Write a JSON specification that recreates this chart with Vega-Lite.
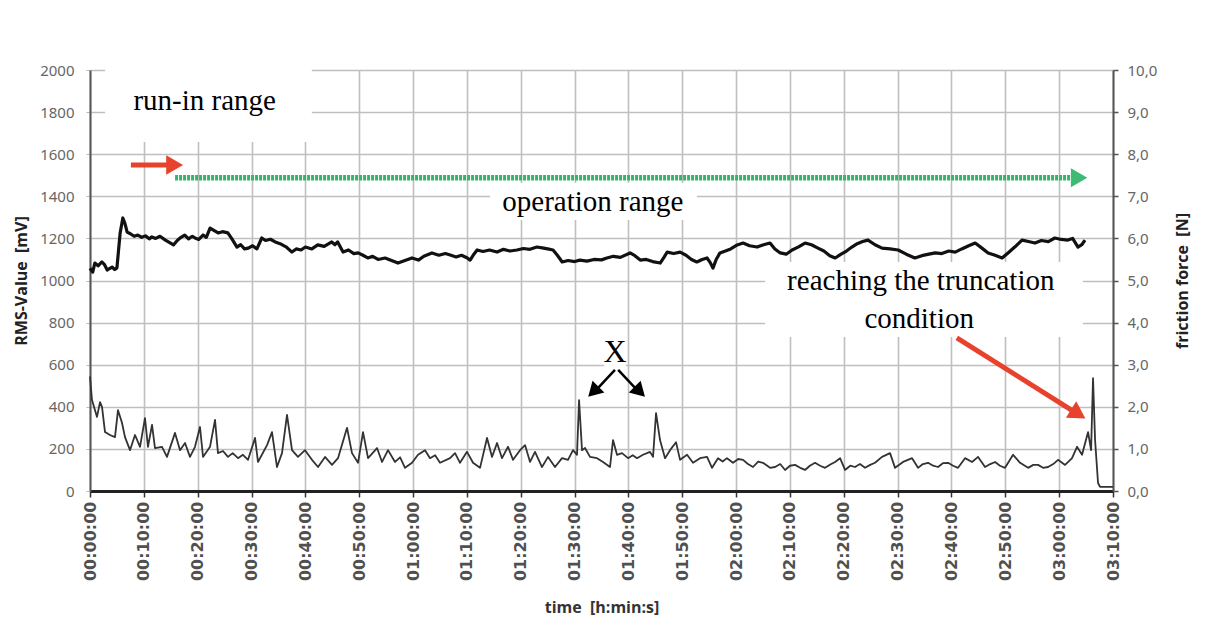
{
  "$schema": "https://vega.github.io/schema/vega-lite/v6.json",
  "width": 1023,
  "height": 421,
  "autosize": {"type": "none"},
  "padding": {"left": 90, "top": 70, "right": 97, "bottom": 135},
  "background": "white",
  "config": {"view": {"stroke": null}},
  "datasets": {
    "rms": [
      {"t":0,"v":1058},{"t":0.5,"v":1040},{"t":0.9,"v":1083},{"t":1.5,"v":1070},{"t":2.2,"v":1088},{"t":2.7,"v":1075},{"t":3.2,"v":1050},{"t":3.7,"v":1058},{"t":4.1,"v":1064},{"t":4.6,"v":1052},{"t":5.0,"v":1060},{"t":5.6,"v":1226},{"t":6.1,"v":1297},{"t":6.5,"v":1270},{"t":6.9,"v":1230},{"t":7.5,"v":1222},{"t":8.2,"v":1210},{"t":8.9,"v":1216},{"t":9.6,"v":1205},{"t":10.3,"v":1212},{"t":11.0,"v":1198},{"t":11.5,"v":1207},{"t":12.2,"v":1200},{"t":13.0,"v":1210},{"t":14.0,"v":1192},{"t":14.8,"v":1180},{"t":15.5,"v":1169},{"t":16.2,"v":1190},{"t":16.9,"v":1205},{"t":17.6,"v":1216},{"t":18.3,"v":1198},{"t":19.0,"v":1210},{"t":19.5,"v":1202},{"t":20.2,"v":1195},{"t":21.0,"v":1216},{"t":21.6,"v":1205},{"t":22.3,"v":1249},{"t":23.0,"v":1238},{"t":23.8,"v":1226},{"t":24.6,"v":1232},{"t":25.6,"v":1226},{"t":26.3,"v":1200},{"t":27.3,"v":1159},{"t":28.0,"v":1170},{"t":28.7,"v":1150},{"t":29.4,"v":1154},{"t":30.2,"v":1165},{"t":31.0,"v":1150},{"t":31.9,"v":1202},{"t":32.6,"v":1190},{"t":33.5,"v":1196},{"t":34.4,"v":1183},{"t":35.3,"v":1175},{"t":36.4,"v":1160},{"t":37.5,"v":1135},{"t":38.3,"v":1150},{"t":39.2,"v":1145},{"t":40.0,"v":1159},{"t":41.2,"v":1150},{"t":42.3,"v":1169},{"t":43.5,"v":1162},{"t":44.9,"v":1183},{"t":45.5,"v":1170},{"t":46.0,"v":1183},{"t":47.0,"v":1135},{"t":48.0,"v":1145},{"t":49.0,"v":1128},{"t":49.8,"v":1131},{"t":50.7,"v":1120},{"t":51.6,"v":1107},{"t":52.5,"v":1115},{"t":53.5,"v":1100},{"t":54.8,"v":1107},{"t":56.0,"v":1095},{"t":57.2,"v":1083},{"t":58.5,"v":1095},{"t":59.8,"v":1107},{"t":61.0,"v":1097},{"t":62.0,"v":1115},{"t":63.5,"v":1131},{"t":64.8,"v":1120},{"t":66.0,"v":1128},{"t":66.9,"v":1121},{"t":68.0,"v":1112},{"t":69.0,"v":1120},{"t":70.0,"v":1108},{"t":70.6,"v":1097},{"t":71.3,"v":1125},{"t":71.9,"v":1145},{"t":73.0,"v":1138},{"t":74.2,"v":1145},{"t":75.6,"v":1135},{"t":76.8,"v":1148},{"t":78.0,"v":1140},{"t":79.3,"v":1145},{"t":80.5,"v":1152},{"t":81.7,"v":1148},{"t":83.0,"v":1159},{"t":84.0,"v":1155},{"t":85.0,"v":1150},{"t":86.0,"v":1145},{"t":86.8,"v":1120},{"t":87.7,"v":1088},{"t":88.8,"v":1095},{"t":90.0,"v":1090},{"t":91.0,"v":1097},{"t":92.3,"v":1092},{"t":93.6,"v":1100},{"t":95.0,"v":1098},{"t":96.0,"v":1107},{"t":97.2,"v":1115},{"t":98.5,"v":1110},{"t":100.3,"v":1131},{"t":101.2,"v":1118},{"t":102.2,"v":1097},{"t":103.3,"v":1100},{"t":104.5,"v":1090},{"t":105.9,"v":1083},{"t":106.6,"v":1110},{"t":107.2,"v":1135},{"t":108.4,"v":1128},{"t":109.6,"v":1135},{"t":110.7,"v":1120},{"t":111.7,"v":1100},{"t":112.7,"v":1088},{"t":113.7,"v":1100},{"t":114.6,"v":1107},{"t":115.2,"v":1085},{"t":115.7,"v":1059},{"t":116.3,"v":1100},{"t":117.0,"v":1131},{"t":118.0,"v":1140},{"t":119.0,"v":1150},{"t":120.2,"v":1169},{"t":121.3,"v":1178},{"t":122.5,"v":1165},{"t":123.9,"v":1159},{"t":125.1,"v":1170},{"t":126.3,"v":1178},{"t":127.2,"v":1150},{"t":128.2,"v":1131},{"t":129.3,"v":1125},{"t":130.4,"v":1145},{"t":131.6,"v":1160},{"t":132.8,"v":1178},{"t":134.0,"v":1170},{"t":135.2,"v":1154},{"t":136.3,"v":1140},{"t":137.4,"v":1118},{"t":138.4,"v":1107},{"t":139.5,"v":1125},{"t":140.5,"v":1140},{"t":141.5,"v":1159},{"t":142.5,"v":1175},{"t":143.5,"v":1185},{"t":144.5,"v":1192},{"t":145.8,"v":1170},{"t":147.1,"v":1154},{"t":148.6,"v":1150},{"t":150.1,"v":1145},{"t":151.6,"v":1125},{"t":153.2,"v":1107},{"t":154.5,"v":1118},{"t":155.8,"v":1125},{"t":157.0,"v":1131},{"t":158.2,"v":1128},{"t":159.5,"v":1140},{"t":160.7,"v":1135},{"t":161.9,"v":1150},{"t":163.2,"v":1165},{"t":164.4,"v":1178},{"t":165.6,"v":1155},{"t":166.8,"v":1131},{"t":168.1,"v":1120},{"t":169.4,"v":1107},{"t":170.5,"v":1131},{"t":171.8,"v":1160},{"t":173.1,"v":1192},{"t":174.3,"v":1185},{"t":175.5,"v":1178},{"t":176.7,"v":1190},{"t":178.0,"v":1185},{"t":179.2,"v":1202},{"t":180.4,"v":1195},{"t":181.6,"v":1192},{"t":182.5,"v":1200},{"t":183.5,"v":1159},{"t":184.2,"v":1170},{"t":184.8,"v":1192}
    ],
    "force": [
      {"t":0,"f":2.72},{"t":0.37,"f":2.16},{"t":1.3,"f":1.76},{"t":1.86,"f":2.11},{"t":2.23,"f":2.0},{"t":2.79,"f":1.4},{"t":3.71,"f":1.33},{"t":4.64,"f":1.28},{"t":5.2,"f":1.92},{"t":5.94,"f":1.62},{"t":6.5,"f":1.28},{"t":7.43,"f":0.97},{"t":8.36,"f":1.33},{"t":9.29,"f":1.05},{"t":10.21,"f":1.73},{"t":10.77,"f":1.05},{"t":11.52,"f":1.57},{"t":12.07,"f":1.02},{"t":13.37,"f":1.05},{"t":14.3,"f":0.81},{"t":15.79,"f":1.38},{"t":16.72,"f":0.97},{"t":17.65,"f":1.14},{"t":18.57,"f":0.81},{"t":19.5,"f":1.05},{"t":20.43,"f":1.52},{"t":20.99,"f":0.81},{"t":22.29,"f":1.05},{"t":23.22,"f":1.69},{"t":23.77,"f":0.9},{"t":24.7,"f":0.95},{"t":25.63,"f":0.81},{"t":26.5,"f":0.9},{"t":27.49,"f":0.78},{"t":28.4,"f":0.86},{"t":29.35,"f":0.74},{"t":30.65,"f":1.26},{"t":31.2,"f":0.69},{"t":32.88,"f":1.09},{"t":33.8,"f":1.4},{"t":34.73,"f":0.57},{"t":35.66,"f":0.9},{"t":36.59,"f":1.81},{"t":37.52,"f":0.97},{"t":38.63,"f":0.81},{"t":39.93,"f":0.97},{"t":41.23,"f":0.74},{"t":42.35,"f":0.57},{"t":43.65,"f":0.81},{"t":44.95,"f":0.62},{"t":46.06,"f":0.78},{"t":47.74,"f":1.5},{"t":48.66,"f":0.9},{"t":49.78,"f":0.67},{"t":50.71,"f":1.4},{"t":51.64,"f":0.78},{"t":53.31,"f":1.02},{"t":54.24,"f":0.69},{"t":55.35,"f":0.97},{"t":56.65,"f":0.69},{"t":57.6,"f":0.8},{"t":58.51,"f":0.55},{"t":59.81,"f":0.67},{"t":60.92,"f":0.86},{"t":62.22,"f":0.97},{"t":63.15,"f":0.78},{"t":64.1,"f":0.85},{"t":65.01,"f":0.67},{"t":66.87,"f":0.78},{"t":67.8,"f":0.9},{"t":68.72,"f":0.67},{"t":70.02,"f":0.93},{"t":71.14,"f":0.67},{"t":72.44,"f":0.55},{"t":73.74,"f":1.26},{"t":74.67,"f":0.81},{"t":75.6,"f":1.14},{"t":76.52,"f":0.78},{"t":77.64,"f":1.05},{"t":78.57,"f":0.74},{"t":79.87,"f":0.97},{"t":80.8,"f":1.09},{"t":81.73,"f":0.69},{"t":82.65,"f":0.93},{"t":83.95,"f":0.57},{"t":85.07,"f":0.81},{"t":86.37,"f":0.57},{"t":87.67,"f":0.78},{"t":88.78,"f":0.74},{"t":89.71,"f":0.97},{"t":90.45,"f":0.86},{"t":90.83,"f":2.16},{"t":91.38,"f":0.97},{"t":91.94,"f":1.02},{"t":92.87,"f":0.81},{"t":94.17,"f":0.78},{"t":95.28,"f":0.69},{"t":96.58,"f":0.57},{"t":97.14,"f":1.21},{"t":97.88,"f":0.86},{"t":98.81,"f":0.9},{"t":99.93,"f":0.78},{"t":100.8,"f":0.85},{"t":101.6,"f":0.78},{"t":102.71,"f":0.86},{"t":104.01,"f":0.93},{"t":104.57,"f":0.81},{"t":105.13,"f":1.85},{"t":105.87,"f":1.21},{"t":106.8,"f":0.78},{"t":107.73,"f":0.97},{"t":108.84,"f":1.16},{"t":109.59,"f":0.74},{"t":110.89,"f":0.86},{"t":112.0,"f":0.67},{"t":113.3,"f":0.78},{"t":114.6,"f":0.81},{"t":115.53,"f":0.55},{"t":116.64,"f":0.78},{"t":117.5,"f":0.7},{"t":118.31,"f":0.78},{"t":119.43,"f":0.67},{"t":120.4,"f":0.76},{"t":121.29,"f":0.74},{"t":122.2,"f":0.64},{"t":123.14,"f":0.57},{"t":124.1,"f":0.7},{"t":125.0,"f":0.67},{"t":126.3,"f":0.55},{"t":127.23,"f":0.57},{"t":128.2,"f":0.64},{"t":129.09,"f":0.5},{"t":130.0,"f":0.6},{"t":130.95,"f":0.62},{"t":131.9,"f":0.55},{"t":132.8,"f":0.5},{"t":133.7,"f":0.6},{"t":134.66,"f":0.67},{"t":135.6,"f":0.6},{"t":136.52,"f":0.55},{"t":137.5,"f":0.63},{"t":138.38,"f":0.69},{"t":139.31,"f":0.78},{"t":140.23,"f":0.5},{"t":141.2,"f":0.6},{"t":142.09,"f":0.57},{"t":143.0,"f":0.64},{"t":143.95,"f":0.55},{"t":144.9,"f":0.62},{"t":145.8,"f":0.67},{"t":147.1,"f":0.81},{"t":148.59,"f":0.9},{"t":149.52,"f":0.55},{"t":151.01,"f":0.69},{"t":152.68,"f":0.78},{"t":153.79,"f":0.55},{"t":154.7,"f":0.64},{"t":155.65,"f":0.67},{"t":156.6,"f":0.6},{"t":157.51,"f":0.57},{"t":158.4,"f":0.66},{"t":159.37,"f":0.67},{"t":160.3,"f":0.6},{"t":161.22,"f":0.55},{"t":162.52,"f":0.78},{"t":163.82,"f":0.69},{"t":164.94,"f":0.81},{"t":166.24,"f":0.57},{"t":167.2,"f":0.64},{"t":168.1,"f":0.69},{"t":169.0,"f":0.6},{"t":169.95,"f":0.55},{"t":171.44,"f":0.86},{"t":172.74,"f":0.67},{"t":174.23,"f":0.55},{"t":175.2,"f":0.62},{"t":176.08,"f":0.62},{"t":177.0,"f":0.55},{"t":177.94,"f":0.57},{"t":178.9,"f":0.64},{"t":179.8,"f":0.74},{"t":181.1,"f":0.62},{"t":182.39,"f":0.78},{"t":183.32,"f":1.05},{"t":184.25,"f":0.86},{"t":185.37,"f":1.4},{"t":185.93,"f":0.97},{"t":186.29,"f":2.68},{"t":186.67,"f":1.21},{"t":187.22,"f":0.19},{"t":187.59,"f":0.1},{"t":190,"f":0.1}
    ]
  },
  "layer": [
    {
      "data": {"name": "rms"},
      "mark": {"type": "line", "color": "#111111", "strokeWidth": 3.2, "strokeJoin": "round"},
      "encoding": {
        "x": {"field": "t", "type": "quantitative", "scale": {"domain": [0, 190], "nice": false, "zero": false},
          "axis": {
            "title": "time\u00a0\u00a0[h:min:s]",
            "values": [0,5,10,15,20,25,30,35,40,45,50,55,60,65,70,75,80,85,90,95,100,105,110,115,120,125,130,135,140,145,150,155,160,165,170,175,180,185,190],
            "labelExpr": "datum.value % 10 == 0 ? ((floor(datum.value/60) < 10 ? '0' : '') + floor(datum.value/60) + ':' + (datum.value % 60 < 10 ? '0' : '') + (datum.value % 60) + ':00') : ''",
            "labelAngle": 270,
            "labelFont": "DejaVu Sans",
            "labelFontSize": 16,
            "labelFontWeight": "bold",
            "labelColor": "#505050",
            "labelPadding": 4,
            "labelOverlap": false,
            "labelFlush": false,
            "tickSize": 6,
            "tickColor": "#333333",
            "tickWidth": 1.5,
            "domainColor": "#222222",
            "domainWidth": 3,
            "grid": true,
            "gridColor": "#bfbfbf",
            "gridWidth": 1.6,
            "titleFont": "Open Sans",
            "titleFontSize": 16,
            "titleFontWeight": "bold",
            "titleColor": "#333333",
            "titlePadding": 19
          }},
        "y": {"field": "v", "type": "quantitative", "scale": {"domain": [0, 2000], "nice": false},
          "axis": {
            "title": "RMS-Value\u00a0\u00a0[mV]",
            "values": [0,200,400,600,800,1000,1200,1400,1600,1800,2000],
            "format": "d",
            "labelFont": "Noto Sans",
            "labelFontSize": 15,
            "labelColor": "#666666",
            "labelPadding": 12,
            "tickSize": 4,
            "tickColor": "#bbbbbb",
            "domainColor": "#555555",
            "domainWidth": 2,
            "grid": true,
            "gridColor": "#bfbfbf",
            "gridWidth": 1.6,
            "titleFont": "Open Sans",
            "titleFontSize": 16,
            "titleFontWeight": "bold",
            "titleColor": "#222222",
            "titlePadding": 10
          }}
      }
    },
    {
      "data": {"name": "force"},
      "mark": {"type": "line", "color": "#333333", "strokeWidth": 1.8, "strokeJoin": "round"},
      "encoding": {
        "x": {"field": "t", "type": "quantitative"},
        "y": {"field": "f", "type": "quantitative", "scale": {"domain": [0, 10], "nice": false},
          "axis": {
            "orient": "right",
            "title": "friction force\u00a0\u00a0[N]",
            "titleAngle": 270,
            "values": [0,1,2,3,4,5,6,7,8,9,10],
            "labelExpr": "replace(format(datum.value, '.1f'), '.', ',')",
            "labelFont": "Noto Sans",
            "labelFontSize": 15,
            "labelColor": "#666666",
            "labelPadding": 9,
            "tickSize": 5,
            "tickColor": "#555555",
            "tickWidth": 1.5,
            "domainColor": "#555555",
            "domainWidth": 2,
            "grid": false,
            "titleFont": "Open Sans",
            "titleFontSize": 16,
            "titleFontWeight": "bold",
            "titleColor": "#222222",
            "titlePadding": 34
          }}
      }
    },
    {
      "data": {"values": [
        {"t": 2.8, "t2": 41.2, "v": 2015, "v2": 1658},
        {"t": 74.3, "t2": 112.7, "v": 1463, "v2": 1287},
        {"t": 125.4, "t2": 184.4, "v": 1088, "v2": 732},
        {"t": 95.5, "t2": 99.5, "v": 755, "v2": 584}
      ]},
      "mark": {"type": "rect", "color": "white", "clip": false},
      "encoding": {
        "x": {"field": "t", "type": "quantitative"},
        "x2": {"field": "t2"},
        "y": {"field": "v", "type": "quantitative", "scale": {"domain": [0, 2000], "nice": false}, "axis": null},
        "y2": {"field": "v2"}
      }
    },
    {
      "data": {"values": [
        {"t": 21.3, "v": 1810, "label": "run-in range"},
        {"t": 93.4, "v": 1330, "label": "operation range"},
        {"t": 154.3, "v": 953, "label": "reaching the truncation"},
        {"t": 154.0, "v": 774, "label": "condition"}
      ]},
      "mark": {"type": "text", "font": "Liberation Serif", "fontSize": 29, "color": "black", "align": "center", "baseline": "alphabetic"},
      "encoding": {
        "x": {"field": "t", "type": "quantitative"},
        "y": {"field": "v", "type": "quantitative", "scale": {"domain": [0, 2000], "nice": false}, "axis": null},
        "text": {"field": "label"}
      }
    },
    {
      "data": {"values": [{"t": 97.5, "v": 613, "label": "X"}]},
      "mark": {"type": "text", "font": "Liberation Serif", "fontSize": 32, "color": "black", "align": "center", "baseline": "alphabetic"},
      "encoding": {
        "x": {"field": "t", "type": "quantitative"},
        "y": {"field": "v", "type": "quantitative", "scale": {"domain": [0, 2000], "nice": false}, "axis": null},
        "text": {"field": "label"}
      }
    },
    {
      "data": {"values": [{"t": 15.8, "v": 1488, "t2": 183.0, "v2": 1488}]},
      "mark": {"type": "rule", "color": "#35b56c", "strokeWidth": 5.5, "strokeDash": [3, 1]},
      "encoding": {
        "x": {"field": "t", "type": "quantitative"},
        "y": {"field": "v", "type": "quantitative", "scale": {"domain": [0, 2000], "nice": false}, "axis": null},
        "x2": {"field": "t2"},
        "y2": {"field": "v2"}
      }
    },
    {
      "data": {"values": [{"t": 183.2, "v": 1488, "a": 90}]},
      "mark": {"type": "point", "shape": "triangle", "filled": true, "color": "#3dbb74", "size": 361, "opacity": 1},
      "encoding": {
        "x": {"field": "t", "type": "quantitative"},
        "y": {"field": "v", "type": "quantitative", "scale": {"domain": [0, 2000], "nice": false}, "axis": null},
        "angle": {"field": "a", "type": "quantitative", "scale": null}
      }
    },
    {
      "data": {"values": [
        {"t": 7.6, "v": 1549, "t2": 14.6, "v2": 1549},
        {"t": 161.0, "v": 727, "t2": 182.6, "v2": 380}
      ]},
      "mark": {"type": "rule", "color": "#e8412c", "strokeWidth": 5},
      "encoding": {
        "x": {"field": "t", "type": "quantitative"},
        "y": {"field": "v", "type": "quantitative", "scale": {"domain": [0, 2000], "nice": false}, "axis": null},
        "x2": {"field": "t2"},
        "y2": {"field": "v2"}
      }
    },
    {
      "data": {"values": [
        {"t": 15.2, "v": 1549, "a": 90},
        {"t": 183.1, "v": 373, "a": 122}
      ]},
      "mark": {"type": "point", "shape": "triangle", "filled": true, "color": "#e8412c", "size": 380, "opacity": 1},
      "encoding": {
        "x": {"field": "t", "type": "quantitative"},
        "y": {"field": "v", "type": "quantitative", "scale": {"domain": [0, 2000], "nice": false}, "axis": null},
        "angle": {"field": "a", "type": "quantitative", "scale": null}
      }
    },
    {
      "data": {"values": [
        {"t": 97.5, "v": 575, "t2": 94.2, "v2": 485},
        {"t": 98.1, "v": 575, "t2": 101.4, "v2": 485}
      ]},
      "mark": {"type": "rule", "color": "black", "strokeWidth": 2.5},
      "encoding": {
        "x": {"field": "t", "type": "quantitative"},
        "y": {"field": "v", "type": "quantitative", "scale": {"domain": [0, 2000], "nice": false}, "axis": null},
        "x2": {"field": "t2"},
        "y2": {"field": "v2"}
      }
    },
    {
      "data": {"values": [
        {"t": 93.8, "v": 480, "a": 225},
        {"t": 101.8, "v": 480, "a": 135}
      ]},
      "mark": {"type": "point", "shape": "triangle", "filled": true, "color": "black", "size": 280, "opacity": 1},
      "encoding": {
        "x": {"field": "t", "type": "quantitative"},
        "y": {"field": "v", "type": "quantitative", "scale": {"domain": [0, 2000], "nice": false}, "axis": null},
        "angle": {"field": "a", "type": "quantitative", "scale": null}
      }
    }
  ],
  "resolve": {"scale": {"y": "independent"}}
}
